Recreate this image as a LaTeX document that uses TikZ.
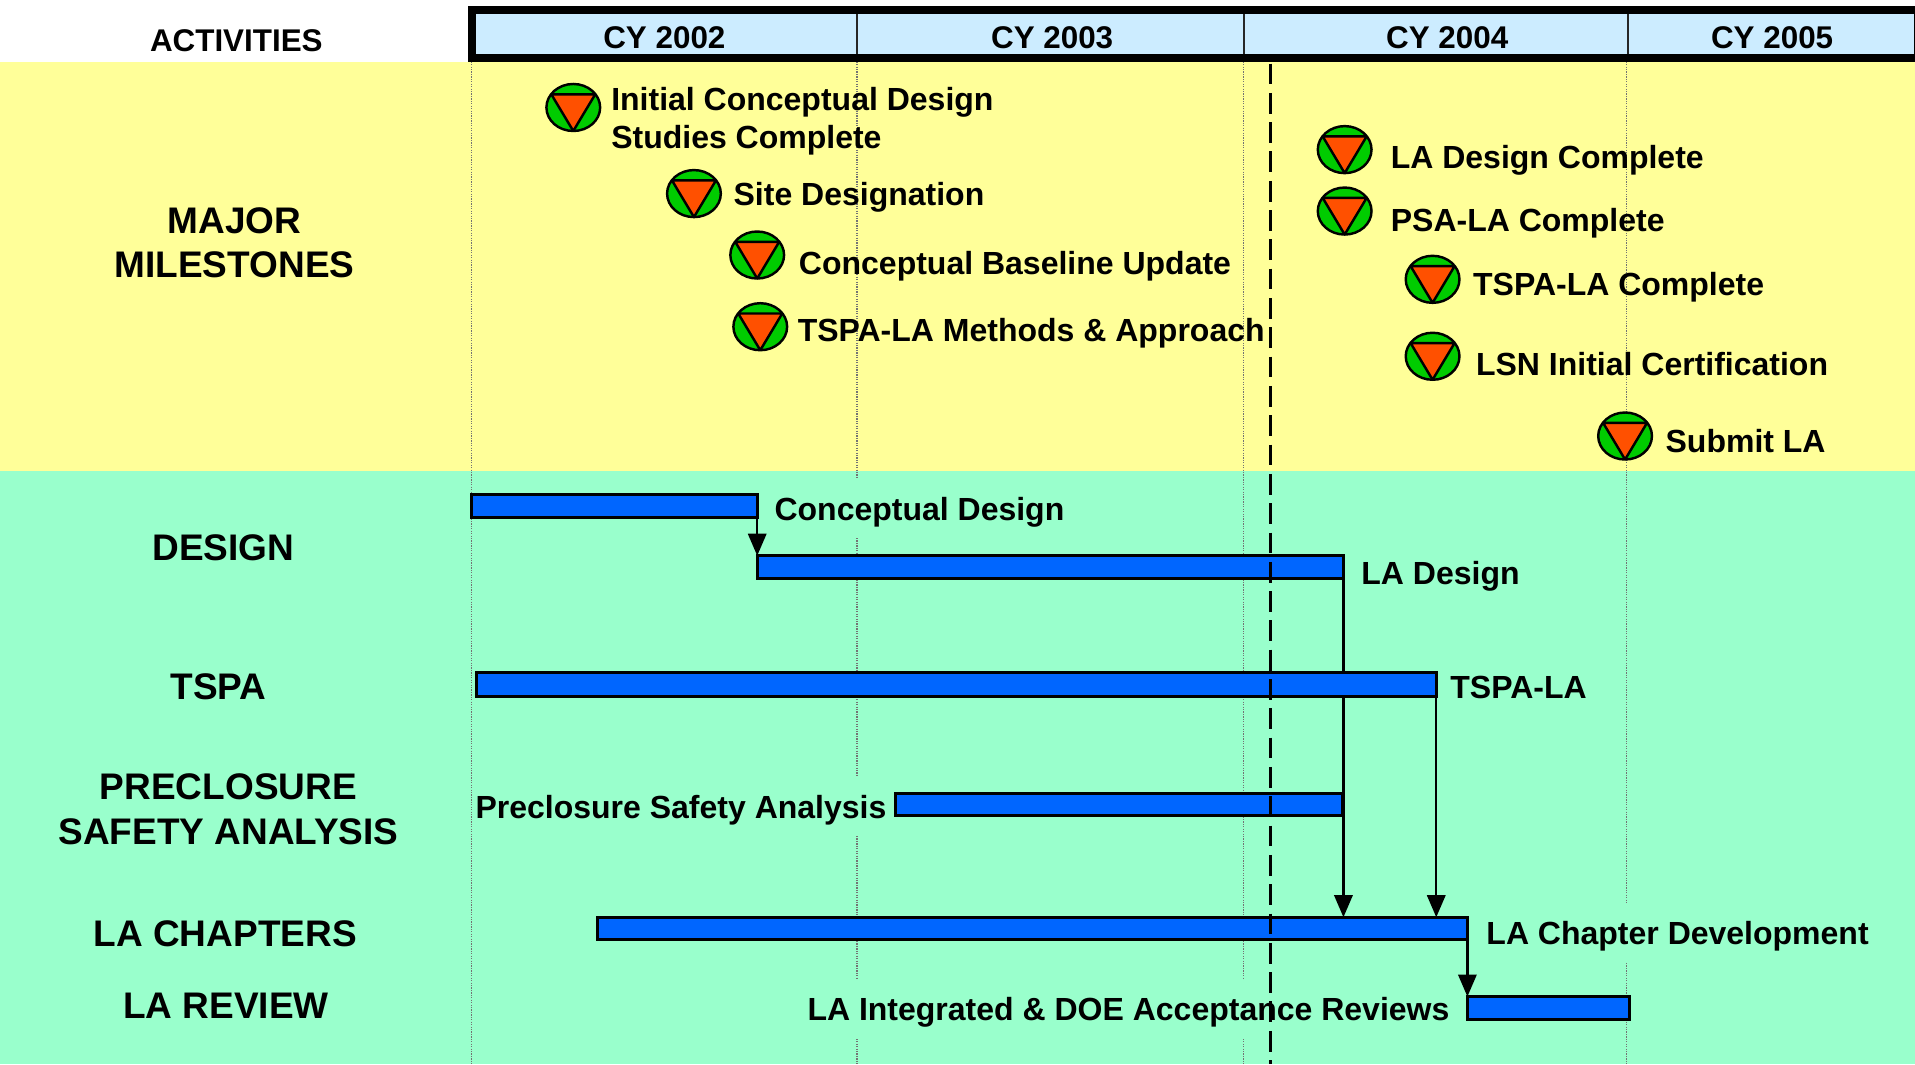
\documentclass[tikz,border=0pt]{standalone}
\usepackage{fontspec}
\setmainfont{Liberation Sans}
\usetikzlibrary{arrows.meta,shapes.geometric}
\pgfdeclarelayer{bg}
\pgfdeclarelayer{conn}
\pgfdeclarelayer{fg}
\pgfsetlayers{bg,conn,main,fg}
\definecolor{yel}{HTML}{FFFF99}
\definecolor{grn}{HTML}{99FFCC}
\definecolor{hdr}{HTML}{CCECFF}
\definecolor{barblue}{HTML}{0066FF}
\definecolor{msgreen}{HTML}{00CC00}
\definecolor{msorange}{HTML}{FF5000}
\begin{document}
\begin{tikzpicture}[x=1pt,y=-1pt,
  mlfont/.style={font=\fontsize{26.2}{31}\selectfont\bfseries},
  ml/.style={mlfont, anchor=west, inner sep=0pt, text height=18.8pt, text depth=0pt},
  hdfont/.style={font=\fontsize{25.7}{30}\selectfont\bfseries, inner sep=0pt, text height=18.4pt, text depth=0pt},
  catfont/.style={font=\fontsize{30.3}{36.5}\selectfont\bfseries},
  cat/.style={catfont, inner sep=0pt, text height=21.7pt, text depth=0pt},
  catml/.style={catfont, inner sep=0pt, align=center, anchor=north},
  barlbl/.style={mlfont, fill=grn, inner xsep=3pt, inner ysep=15pt, text height=18.8pt, text depth=0pt},
  bar/.style={draw=black, line width=2.3pt, fill=barblue, inner sep=0pt, outer sep=0pt, anchor=north west},
  conn/.style={draw=black, line width=1.8pt, -{Triangle[width=15pt,length=18pt]}},
  ms/.style={ellipse, draw=black, line width=2pt, fill=msgreen, minimum width=44pt, minimum height=38.5pt, inner sep=0pt,
    path picture={\draw[line width=2pt, fill=msorange, shift={(path picture bounding box.center)}]
      (-18,-10.8) -- (18,-10.8) -- (0,19.25) -- cycle;}},
  grid/.style={black!55, line width=0.9pt, dash pattern=on 1pt off 1pt}
]
\useasboundingbox (0,0) rectangle (1568,871.2);
\begin{pgfonlayer}{bg}
  \fill[white] (0,0) rectangle (1568,871.2);
  \fill[yel] (0,50.5) rectangle (1568,386);
  \fill[grn] (0,386) rectangle (1568,871.2);
  \foreach \gx in {386,701.7,1018,1332}
    \draw[grid] (\gx,50.5) -- (\gx,871.2);
\end{pgfonlayer}

% header
\draw[fill=hdr, draw=black, line width=6.5pt] (386.5,8.2) rectangle (1570.2,47.5);
\foreach \dx in {701.7,1018.4,1333}
  \draw[black!85, line width=2pt] (\dx,11.5) -- (\dx,44.5);
\node[hdfont] (act) at (193.5,32.8) {ACTIVITIES};
\node[hdfont] (y2) at (544,30.6) {CY 2002};
\node[hdfont] (y3) at (861.5,30.6) {CY 2003};
\node[hdfont] (y4) at (1185,30.6) {CY 2004};
\node[hdfont] (y5) at (1451,30.6) {CY 2005};

% category labels
\node[catml] (cmile) at (192,169.5) {MAJOR\\MILESTONES};
\node[cat] (cdes) at (183,448) {DESIGN};
\node[cat] (ctspa) at (179,562) {TSPA};
\node[catml] (cpsa) at (187,633.6) {PRECLOSURE\\SAFETY ANALYSIS};
\node[cat] (clac) at (184.4,764) {LA CHAPTERS};
\node[cat] (crev) at (185,823) {LA REVIEW};

% milestones
\node[ms] (m1) at (469.4,88) {};
\node[mlfont, anchor=north west, align=left, inner sep=0pt] (t1) at (500.3,71.2) {Initial Conceptual Design\\Studies Complete};
\node[ms] (m2) at (568.2,158.5) {};
\node[ml] (t2) at (600.5,158.5) {Site Designation};
\node[ms] (m3) at (620,208.8) {};
\node[ml] (t3) at (654,215) {Conceptual Baseline Update};
\node[ms] (m4) at (622.5,267.5) {};
\node[ml] (t4) at (653,270.5) {TSPA-LA Methods \& Approach};
\node[ms] (m5) at (1101,122.5) {};
\node[ml] (t5) at (1138.6,128.4) {LA Design Complete};
\node[ms] (m6) at (1101,172.8) {};
\node[ml] (t6) at (1138.6,180.3) {PSA-LA Complete};
\node[ms] (m7) at (1173,228.7) {};
\node[ml] (t7) at (1206,232.2) {TSPA-LA Complete};
\node[ms] (m8) at (1173,291.7) {};
\node[ml] (t8) at (1208.4,297.8) {LSN Initial Certification};
\node[ms] (m9) at (1330.6,357) {};
\node[ml] (t9) at (1363.6,361.2) {Submit LA};

% bars
\node[bar, minimum width=234pt, minimum height=18.5pt] (cd) at (386,405) {};
\node[bar, minimum width=480pt, minimum height=18.5pt] (lad) at (620,455) {};
\node[bar, minimum width=786pt, minimum height=20pt] (tspa) at (390,550.5) {};
\node[bar, minimum width=366pt, minimum height=17.5pt] (psa) at (733,650) {};
\node[bar, minimum width=712.5pt, minimum height=18.5pt] (lac) at (489,751) {};
\node[bar, minimum width=132.5pt, minimum height=18.5pt] (rev) at (1201.5,816) {};

% bar labels
\node[barlbl, anchor=west] (lcd) at (631,416.5) {Conceptual Design};
\node[barlbl, anchor=west] (llad) at (1111.5,469) {LA Design};
\node[barlbl, anchor=west] (ltspa) at (1184.4,562.5) {TSPA-LA};
\node[barlbl, anchor=east] (lpsa) at (729,660.5) {Preclosure Safety Analysis};
\node[barlbl, anchor=west] (llac) at (1213.9,764) {LA Chapter Development};
\node[barlbl, anchor=east] (lrev) at (1190,826.5) {LA Integrated \& DOE Acceptance Reviews};

% connectors
\begin{pgfonlayer}{conn}
  \draw[conn] (cd.south east) -- (lad.north west);
  \draw[conn] (lad.south east) -- (lad.south east |- lac.north);
  \draw[conn] (tspa.south east) -- (tspa.south east |- lac.north);
  \draw[conn] (lac.south east) -- (rev.north west);
\end{pgfonlayer}

\begin{pgfonlayer}{fg}
  \draw[black, line width=2.4pt, dash pattern=on 17pt off 7pt] (1040.3,52) -- (1040.3,871.2);
\end{pgfonlayer}
\end{tikzpicture}
\end{document}
